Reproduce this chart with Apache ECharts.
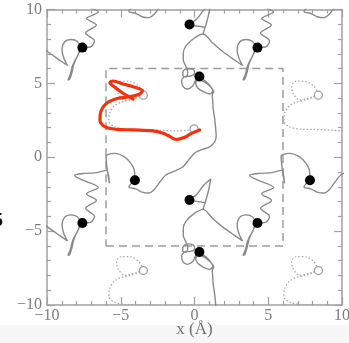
<!DOCTYPE html>
<html>
<head>
<meta charset="utf-8">
<script src="https://cdn.jsdelivr.net/npm/echarts@6/dist/echarts.min.js"></script>
<style>
  html, body { margin: 0; padding: 0; background: #ffffff; }
  #chart { width: 349px; height: 343px; }
</style>
</head>
<body>
<div id="chart"></div>
<script>
// Axis ticks (Å)
const tickValues = [-10, -5, 0, 5, 10];
// Periodic cell length (Å) used to draw the periodic images
const period = 11.87;
const imageIndex = [-1, 0, 1];

// Simulation box outline (dashed square)
const boxCorners = [[-6, -6], [6, -6], [6, 6], [-6, 6], [-6, -6]];

// Main chain path (unwrapped), one period
const chainPath = [
  [-4.04, -1.56], [-4.45, -2.01], [-3.98, -2.14], [-3.50, -2.38], [-3.10, -2.42],
  [-2.69, -2.14], [-2.29, -1.60], [-1.95, -1.20], [-1.41, -0.96], [-0.80, -0.66],
  [-0.39, -0.18], [0.01, 0.29], [0.55, 0.53], [1.03, 0.70], [1.37, 1.04],
  [1.47, 1.44], [1.43, 1.98], [1.37, 2.59], [1.27, 3.27], [1.23, 3.88],
  [1.20, 4.22], [1.30, 4.42], [1.10, 4.76], [0.69, 5.09], [0.28, 5.23],
  [0.08, 5.03], [0.22, 4.69], [0.62, 4.42], [1.03, 4.28], [1.23, 4.49],
  [0.96, 4.96], [0.55, 5.30], [0.33, 5.46], [0.08, 5.23], [-0.12, 4.82],
  [-0.49, 4.62], [-0.80, 4.82], [-0.87, 5.20], [-0.63, 5.47], [-0.26, 5.50],
  [0.01, 5.70], [-0.09, 5.94], [-0.46, 6.01], [-0.76, 5.84], [-0.80, 5.53],
  [-0.56, 5.43], [-0.46, 5.77], [-0.60, 6.18], [-0.76, 6.58], [-0.76, 7.06],
  [-0.56, 7.56], [-0.05, 8.04], [0.58, 8.34], [1.25, 7.71], [1.93, 7.14],
  [2.72, 6.58], [3.26, 6.21], [3.02, 6.68], [2.89, 7.26], [3.06, 7.80],
  [3.50, 7.97], [3.94, 7.83], [4.11, 7.46], [3.97, 6.92], [3.73, 6.48],
  [3.57, 6.11], [3.46, 5.64], [3.29, 5.23], [3.40, 5.26], [3.57, 5.77],
  [3.67, 6.24], [3.90, 6.79], [4.11, 7.19], [4.27, 7.42], [4.82, 7.46],
  [5.09, 7.87], [4.48, 8.41], [5.22, 8.95], [4.55, 9.39], [5.36, 9.83],
  [4.34, 10.30], [3.73, 10.64], [4.41, 10.78], [5.09, 10.81], [5.90, 10.98],
  [6.10, 10.10], [5.87, 11.93], [6.44, 12.13], [7.12, 11.89], [7.56, 11.45],
  [7.79, 10.98], [7.83, 10.31]
];

// Side branch ending at the upper marker
const branchPath = [
  [0.72, 8.80], [0.15, 8.88], [-0.34, 8.98], [0.15, 9.35], [0.62, 9.97],
  [1.10, 10.40], [1.00, 9.85], [0.83, 9.15], [0.66, 8.61], [0.58, 8.34]
];

// Marker positions (filled dots)
const markerX = [0.33, -0.34, 4.27, -4.04];
const markerY = [5.46, 8.98, 7.42, -1.56];

// Reference trajectory (dotted) and its images
const dottedPath = [
  [-3.47, 4.20], [-4.19, 3.99], [-4.75, 3.88], [-5.17, 4.30], [-5.29, 4.80],
  [-4.97, 5.15], [-4.32, 5.12], [-3.77, 4.80], [-3.57, 4.40], [-3.87, 4.05],
  [-4.47, 3.85], [-5.07, 3.70], [-5.47, 3.45], [-5.75, 3.00], [-5.81, 2.45],
  [-5.47, 2.08], [-4.67, 1.90], [-3.77, 1.88], [-2.87, 1.85], [-2.07, 1.80],
  [-1.27, 1.78], [-0.57, 1.82], [-0.03, 1.92]
];
const dottedShiftX = [0, 1, 0, 1];
const dottedShiftY = [0, 0, -1, -1];

// Highlighted path (red)
const redPath = [
  [-4.16, 3.94], [-4.84, 4.33], [-5.40, 4.74], [-5.74, 5.05], [-5.51, 5.16],
  [-4.84, 4.96], [-4.05, 4.74], [-3.53, 4.51], [-3.71, 4.28], [-4.38, 4.10],
  [-5.18, 3.99], [-5.96, 3.65], [-6.35, 3.09], [-6.41, 2.52], [-6.08, 2.07],
  [-5.28, 1.89], [-4.16, 1.85], [-2.81, 1.78], [-2.13, 1.62], [-1.79, 1.47],
  [-1.22, 1.20], [-0.66, 1.35], [-0.21, 1.62], [0.35, 1.85]
];

const shifted = (pts, i, j) => pts.map(p => [p[0] + i * period, p[1] + j * period]);
const fmt = v => (v < 0 ? '\u2212' + Math.abs(v) : String(v));

const gray = '#8a8a8a';
const frameColor = '#a0a0a0';
const labelColor = '#7c7c7c';
const serif = 'Liberation Serif, DejaVu Serif, serif';

const series = [];

series.push({
  type: 'line', data: boxCorners, symbol: 'none', silent: true, z: 1,
  lineStyle: { color: '#9c9c9c', width: 1.5, type: [8, 5] }
});

imageIndex.forEach(i => imageIndex.forEach(j => {
  series.push({
    type: 'line', data: shifted(chainPath, i, j), symbol: 'none', smooth: 0.3,
    silent: true, z: 2, lineStyle: { color: gray, width: 1.4 }
  });
  series.push({
    type: 'line', data: shifted(branchPath, i, j), symbol: 'none', smooth: 0.3,
    silent: true, z: 2, lineStyle: { color: gray, width: 1.4 }
  });
}));

dottedShiftX.forEach((sx, k) => {
  series.push({
    type: 'line', data: shifted(dottedPath, sx, dottedShiftY[k]), symbol: 'none',
    smooth: 0.3, silent: true, z: 2,
    lineStyle: { color: '#a8a8a8', width: 1.3, type: [1.5, 2] }
  });
});

// Open circles at the ends of the dotted trajectory
const openCircles = dottedShiftX.map((sx, k) => [
  dottedPath[0][0] + sx * period, dottedPath[0][1] + dottedShiftY[k] * period
]);
openCircles.push(dottedPath[dottedPath.length - 1]);
series.push({
  type: 'scatter', data: openCircles, symbol: 'circle', symbolSize: 8, z: 3,
  silent: true, itemStyle: { color: '#ffffff', borderColor: '#a0a0a0', borderWidth: 1.3, opacity: 1 }
});

series.push({
  type: 'line', data: redPath, symbol: 'none', smooth: 0.35, silent: true, z: 5,
  lineStyle: { color: '#f7300c', width: 3.2, cap: 'round', join: 'round' }
});

const markers = [];
imageIndex.forEach(i => imageIndex.forEach(j => {
  markerX.forEach((x, k) => markers.push([x + i * period, markerY[k] + j * period]));
}));
series.push({
  type: 'scatter', data: markers, symbol: 'circle', symbolSize: 10, z: 6,
  silent: true, itemStyle: { color: '#000000', opacity: 1 }
});

const axisCommon = {
  type: 'value', min: -10, max: 10, interval: 5,
  axisLine: { show: true, onZero: false, lineStyle: { color: frameColor, width: 1.5 } },
  axisTick: { show: true, inside: true, length: 8, lineStyle: { color: frameColor, width: 1.2 } },
  minorTick: { show: true, splitNumber: 5, length: 4, lineStyle: { color: frameColor, width: 1.2 } },
  splitLine: { show: false },
  minorSplitLine: { show: false }
};
const labelStyle = {
  color: labelColor, fontFamily: serif, fontSize: 16,
  showMinLabel: true, showMaxLabel: true, formatter: fmt
};

const chart = echarts.init(document.getElementById('chart'), null, { renderer: 'canvas' });
chart.setOption({
  animation: false,
  backgroundColor: '#ffffff',
  grid: { left: 47, top: 9.5, width: 295, height: 295.5, containLabel: false, outerBoundsMode: 'none' },
  xAxis: [
    Object.assign({}, axisCommon, {
      position: 'bottom',
      axisLabel: Object.assign({ margin: 3 }, labelStyle),
      name: 'x (Å)', nameLocation: 'middle', nameGap: 16, nameMoveOverlap: false,
      nameTextStyle: { color: '#707070', fontFamily: serif, fontSize: 17, verticalAlign: 'top' }
    }),
    Object.assign({}, axisCommon, { position: 'top', axisLabel: { show: false } })
  ],
  yAxis: [
    Object.assign({}, axisCommon, {
      position: 'left',
      axisLabel: Object.assign({ margin: 5 }, labelStyle)
    }),
    Object.assign({}, axisCommon, { position: 'right', axisLabel: { show: false } })
  ],
  graphic: [
    { type: 'rect', left: 0, top: 325, z: -10, silent: true,
      shape: { width: 349, height: 18 }, style: { fill: '#f7f7f7' } },
    { type: 'text', left: -6, top: 212, silent: true,
      style: { text: '5', fill: '#111111', font: 'bold 18px ' + serif } }
  ],
  series: series
});
</script>
</body>
</html>
